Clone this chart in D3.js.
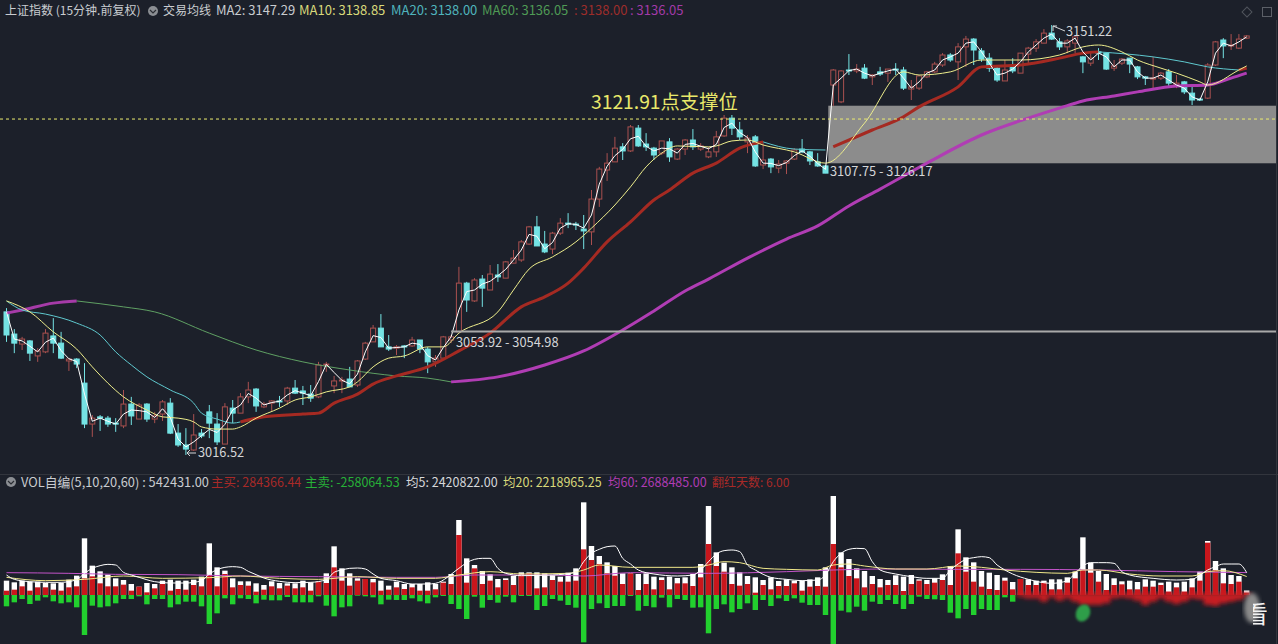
<!DOCTYPE html>
<html>
<head>
<meta charset="utf-8">
<script src="https://cdn.jsdelivr.net/npm/d3@7"></script>
<style>
  body { margin: 0; background: #1c202a; overflow: hidden; }
  text { font-family: "Noto Sans CJK SC", "Noto Sans", sans-serif; }
</style>
</head>
<body>
<div id="chart"></div>
<script>
// 15 minute candles
var candleOpen = [
  3060.2,3053.1,3049.9,3050.9,3046.1,3047.4,3052.5,3050.2,3044.5,3045.1,
  3037.4,3024.3,3026.6,3026.2,3024.6,3023.7,3030.7,3025.9,3030.7,3025.9,
  3027.5,3031.0,3021.4,3017.6,3016.0,3021.4,3028.2,3024.3,3017.9,3029.4,
  3027.8,3033.0,3035.5,3029.8,3031.0,3031.7,3031.7,3035.8,3034.9,3033.9,
  3033.0,3043.2,3036.5,3038.1,3038.7,3036.8,3045.1,3050.6,3055.0,3049.0,
  3048.6,3049.3,3049.3,3051.2,3048.3,3044.2,3045.4,3051.2,3053.8,3069.4,
  3063.7,3070.7,3067.2,3072.0,3071.0,3075.8,3076.8,3081.9,3087.4,3081.9,
  3080.3,3085.4,3088.6,3088.3,3086.7,3085.8,3096.3,3105.6,3108.2,3113.0,
  3111.7,3119.0,3113.9,3112.6,3111.0,3114.6,3109.1,3112.3,3115.2,3112.3,
  3109.8,3111.4,3116.5,3122.2,3118.4,3114.6,3116.2,3107.2,3109.1,3106.2,
  3107.8,3109.1,3112.3,3111.4,3108.2,3106.9,3132.8,3127.4,3137.6,3137.3,
  3138.2,3135.4,3137.0,3136.6,3137.9,3137.6,3131.5,3131.8,3135.4,3137.0,
  3139.2,3142.4,3140.2,3145.0,3147.5,3143.7,3141.4,3138.2,3134.1,3138.6,
  3136.6,3142.7,3144.6,3146.2,3149.4,3146.6,3145.0,3146.2,3141.8,3139.8,
  3143.4,3143.0,3138.2,3139.8,3141.4,3138.6,3135.4,3134.7,3135.0,3137.0,
  3132.8,3133.8,3130.2,3128.3,3128.6,3139.2,3147.2,3145.3,3144.6,3147.8
];
var candleClose = [
  3052.8,3050.2,3051.5,3047.0,3047.7,3053.4,3050.2,3045.4,3045.1,3043.5,
  3024.3,3026.2,3026.2,3024.3,3024.3,3030.7,3026.9,3030.4,3025.9,3026.9,
  3031.4,3021.4,3017.6,3016.3,3020.8,3020.5,3024.6,3018.6,3029.8,3027.8,
  3033.0,3035.2,3030.1,3030.7,3031.7,3031.4,3035.8,3034.2,3034.2,3032.6,
  3043.2,3043.5,3038.1,3038.4,3036.2,3044.5,3050.2,3055.0,3049.0,3048.3,
  3049.0,3049.0,3051.2,3048.3,3044.2,3045.4,3052.2,3052.2,3069.4,3064.0,
  3070.4,3067.8,3072.3,3071.4,3076.2,3077.4,3082.6,3087.4,3081.3,3079.4,
  3085.4,3088.6,3088.3,3088.0,3086.1,3096.3,3105.9,3107.8,3112.6,3111.7,
  3119.4,3113.3,3113.0,3110.4,3114.9,3109.8,3112.3,3115.2,3113.0,3113.3,
  3111.4,3116.2,3122.2,3119.0,3116.2,3115.8,3106.9,3108.8,3106.6,3107.5,
  3108.5,3112.0,3111.4,3108.5,3106.9,3104.6,3137.6,3137.3,3137.3,3137.9,
  3135.0,3136.0,3136.3,3137.9,3137.6,3131.8,3132.2,3135.7,3137.0,3139.5,
  3142.4,3140.8,3145.0,3147.5,3144.0,3141.1,3138.2,3134.4,3137.6,3137.3,
  3143.0,3144.6,3146.6,3149.4,3147.5,3145.0,3146.9,3148.2,3140.2,3141.4,
  3143.0,3137.9,3138.9,3141.1,3139.5,3135.4,3135.0,3135.0,3136.6,3133.4,
  3133.4,3130.6,3128.0,3128.0,3139.2,3146.6,3145.3,3145.6,3147.5,3148.5
];
var candleHigh = [
  3061.4,3054.7,3052.2,3051.2,3048.6,3054.7,3058.2,3053.8,3045.4,3045.4,
  3043.8,3027.2,3027.2,3026.9,3026.2,3035.2,3033.0,3031.0,3031.0,3028.2,
  3032.0,3032.6,3024.3,3023.0,3027.5,3022.7,3030.4,3027.8,3031.0,3032.0,
  3034.2,3037.8,3035.8,3031.4,3032.0,3033.3,3036.2,3038.4,3036.5,3036.8,
  3044.2,3044.2,3039.7,3039.4,3042.6,3044.8,3050.6,3056.0,3059.5,3052.8,
  3049.6,3049.6,3052.2,3051.2,3049.0,3046.4,3052.5,3052.8,3074.6,3069.8,
  3071.0,3072.0,3075.2,3075.5,3076.5,3080.0,3083.2,3087.7,3090.9,3086.1,
  3085.8,3090.2,3091.8,3089.0,3091.2,3099.2,3106.6,3111.0,3116.2,3114.2,
  3120.0,3120.0,3117.4,3113.0,3114.9,3115.8,3112.6,3115.5,3118.7,3114.2,
  3113.0,3118.1,3123.2,3123.2,3121.0,3116.8,3116.8,3114.2,3109.4,3108.8,
  3108.8,3112.6,3115.5,3111.7,3111.0,3107.2,3137.9,3137.6,3142.7,3139.5,
  3139.5,3136.3,3138.6,3137.9,3139.8,3138.6,3134.4,3136.0,3137.3,3140.2,
  3143.0,3143.0,3146.2,3148.5,3147.8,3144.6,3143.0,3138.6,3140.8,3141.4,
  3143.0,3145.0,3147.5,3150.7,3152.0,3147.8,3147.5,3148.5,3142.1,3143.4,
  3144.6,3143.0,3140.8,3141.4,3141.4,3138.9,3135.7,3141.8,3137.0,3137.9,
  3136.0,3134.1,3132.2,3128.6,3139.8,3146.9,3147.8,3149.1,3149.1,3148.8
];
var candleLow = [
  3050.6,3047.0,3048.0,3044.5,3044.2,3047.0,3047.0,3045.1,3041.3,3042.2,
  3023.0,3020.2,3022.1,3023.4,3021.8,3023.0,3024.0,3025.9,3025.0,3024.6,
  3025.3,3021.1,3017.0,3014.4,3015.7,3019.8,3019.8,3017.6,3017.9,3024.6,
  3027.8,3031.0,3028.2,3029.4,3028.5,3029.8,3030.4,3033.9,3030.4,3031.4,
  3032.6,3041.0,3034.2,3034.2,3036.2,3036.2,3044.8,3050.6,3049.0,3047.7,
  3046.4,3045.4,3049.0,3047.0,3040.6,3042.6,3045.1,3050.2,3053.8,3060.2,
  3063.4,3061.8,3067.2,3069.8,3071.0,3075.8,3076.2,3081.6,3081.3,3079.0,
  3078.7,3084.8,3087.0,3086.4,3080.3,3081.6,3093.8,3102.1,3108.2,3108.8,
  3111.4,3113.0,3111.7,3108.8,3110.4,3108.2,3108.8,3110.4,3112.0,3111.7,
  3109.4,3109.8,3116.2,3116.8,3115.2,3111.0,3106.6,3105.9,3104.6,3104.6,
  3104.3,3108.8,3111.0,3107.2,3106.6,3104.6,3126.1,3127.0,3136.0,3136.6,
  3134.7,3132.8,3135.7,3133.8,3136.0,3131.2,3128.0,3131.2,3135.0,3136.6,
  3138.6,3140.2,3134.4,3138.6,3139.2,3140.2,3137.0,3133.8,3134.1,3136.6,
  3136.6,3139.8,3143.4,3146.2,3147.2,3144.0,3143.0,3143.0,3136.6,3138.9,
  3140.8,3137.6,3137.3,3139.2,3136.6,3134.7,3132.8,3131.8,3134.4,3132.5,
  3131.8,3129.9,3126.4,3127.7,3128.3,3138.9,3141.4,3144.0,3144.3,3147.5
];

// moving averages (MA2 has a reading per bar, the others at the bends)
var ma2Values = [
  3060.2,3051.5,3050.9,3049.2,3047.4,3050.5,3051.8,3047.8,3045.2,3044.3,
  3033.9,3025.2,3026.2,3025.2,3024.3,3027.5,3028.8,3028.6,3028.2,3026.4,
  3029.2,3026.4,3019.5,3017.0,3018.6,3020.6,3022.6,3021.6,3024.2,3028.8,
  3030.4,3034.1,3032.6,3030.4,3031.2,3031.6,3033.6,3035.0,3034.2,3033.4,
  3037.9,3043.4,3040.8,3038.3,3037.2,3040.3,3047.4,3052.6,3052.0,3048.6,
  3048.8,3049.0,3050.2,3049.8,3046.2,3044.8,3048.8,3052.2,3060.8,3066.7,
  3067.2,3069.1,3070.0,3071.8,3073.8,3076.8,3080.0,3085.0,3084.4,3080.4,
  3082.4,3087.0,3088.4,3088.2,3087.0,3091.2,3101.1,3106.8,3110.2,3112.2,
  3115.6,3116.4,3113.2,3111.7,3112.6,3112.4,3111.0,3113.8,3114.1,3113.2,
  3112.4,3113.8,3119.2,3120.6,3117.6,3116.0,3111.4,3107.8,3107.7,3107.0,
  3108.0,3110.2,3111.7,3110.0,3107.7,3105.8,3132.8,3135.0,3137.4,3137.9,
  3136.6,3135.7,3136.6,3137.3,3137.9,3135.0,3131.8,3133.8,3136.6,3137.6,
  3140.8,3141.8,3143.0,3146.2,3146.6,3143.4,3139.8,3136.0,3136.6,3137.9,
  3140.2,3143.4,3145.6,3147.8,3149.1,3146.2,3146.2,3147.8,3143.4,3140.8,
  3143.0,3141.8,3138.6,3140.8,3140.8,3137.0,3135.0,3135.0,3136.0,3134.4,
  3132.8,3131.8,3129.0,3128.0,3133.8,3143.0,3146.2,3145.3,3146.6,3148.2
];
var ma10Index = [0,3,6,9,11,13,15,18,20,22,24,25,27,29,30,32,35,37,39,41,44,45,47,49,51,54,56,58,63,65,67,70,73,75,78,80,82,84,86,90,91,93,95,97,101,105,110,115,117,121,125,130,135,138,140,143,145,148,150,153,154,158,159];
var ma10Values = [3063.7,3060.2,3053.8,3048.3,3042.6,3037.4,3033.0,3028.8,3026.6,3026.2,3025.0,3023.4,3022.7,3022.7,3023.4,3026.2,3029.4,3032.0,3033.0,3034.6,3036.2,3037.8,3042.6,3045.4,3046.1,3049.0,3049.0,3053.4,3060.2,3067.2,3073.9,3077.8,3082.6,3087.0,3094.4,3100.2,3106.6,3111.0,3113.3,3113.0,3113.3,3114.9,3115.2,3113.6,3111.4,3107.8,3120.6,3137.0,3136.0,3137.0,3140.8,3140.8,3142.4,3145.0,3145.6,3143.4,3140.8,3138.2,3136.6,3133.8,3132.8,3137.6,3138.9];
var ma20Index = [0,2,5,9,12,14,16,18,21,24,25,27,29,30,33,38,40,42,45,47,50,54,58,62,66,69,72,74,77,80,83,85,88,91,94,97,101,105,106,111,115,117,122,125,130,135,138,140,147,151,154,158,159];
var ma20Values = [3063.7,3060.8,3059.5,3056.6,3052.8,3047.4,3043.2,3039.4,3035.2,3031.0,3027.8,3025.9,3024.6,3025.0,3026.6,3027.5,3027.8,3031.0,3033.9,3037.1,3039.7,3042.6,3047.7,3053.4,3061.8,3065.0,3069.4,3074.2,3082.6,3089.0,3096.0,3099.2,3104.6,3107.8,3112.6,3114.6,3112.3,3112.0,3113.0,3118.4,3122.6,3125.8,3132.2,3138.6,3139.2,3141.4,3143.0,3143.4,3141.8,3140.2,3138.6,3137.6,3138.2];
var ma60Index = [0,2,6,9,15,19,26,32,38,44,50,54,57,63,69,74,79,83,87,90,95,100,104,108,112,118,125,131,135,138,142,145,150,154,157,159];
var ma60Values = [3059.8,3060.8,3063.0,3063.7,3061.8,3060.2,3053.4,3048.0,3044.2,3041.6,3039.7,3039.0,3037.8,3039.4,3043.2,3047.7,3054.4,3060.5,3066.9,3070.7,3077.4,3083.5,3087.7,3094.1,3099.5,3107.8,3116.8,3122.2,3125.4,3127.7,3129.3,3130.6,3132.5,3132.8,3135.0,3136.6];

// marked price levels
var supportLevel = 3121.91;
var gapLow = 3107.75;
var gapHigh = 3126.17;
var lowerLevel = 3053.92;
var lowerLevelStart = 57;

// volume in thousands
var volTotal = [
  1720,1520,1720,1600,1600,1440,1400,1440,1840,2320,
  6800,3520,2840,2440,2000,1800,1320,1000,1440,1320,
  1720,1840,1720,1720,1840,2200,6200,3320,2920,2000,
  1640,1640,1400,1200,1640,1440,1400,1400,1720,1520,
  1600,2600,5840,3200,2600,2000,1920,1920,1720,1120,
  1600,1320,1320,1320,1520,1320,1600,2520,9000,4400,
  3600,2880,2480,1920,2000,2280,2720,2720,2720,2600,
  2400,2200,2680,3200,11120,5880,4680,3920,3480,2600,
  2600,2520,2600,2200,2120,2200,2040,2120,2520,3720,
  10680,5120,3880,3320,2720,2280,2120,1800,2120,1680,
  1880,1720,1720,1880,2120,3320,11880,5120,4320,3200,
  2880,2280,1920,1800,2360,2200,2400,1880,1800,2000,
  2480,3480,7880,4520,3920,2880,2680,2400,2080,1560,
  1920,1880,1720,1720,1880,1880,2120,2800,6920,3880,
  2880,2520,2000,1640,1720,1560,1880,1720,1480,1600,
  1480,1600,2000,2800,6480,4080,3200,2400,2280,542
];
var volBuy = [
  520,640,1040,520,920,920,640,520,920,1040,
  2000,2240,1400,1040,1040,1240,520,1000,320,800,
  1320,520,720,640,1200,1040,2400,1040,2520,920,
  1200,1120,400,640,1040,800,1120,800,920,520,
  1600,1440,3320,1720,1120,1720,1920,1520,520,640,
  920,720,920,520,520,680,1480,1320,7200,1480,
  3200,1320,1720,920,1800,1200,2400,2600,800,920,
  1800,1600,1600,1720,5480,4200,3720,2600,2320,1320,
  2600,600,1320,680,1800,680,1400,1400,1080,2120,
  6120,3480,2800,1320,1120,1320,280,1200,680,1080,
  1080,1400,520,1000,1080,1000,6120,3320,2280,2000,
  920,1320,920,1200,1200,480,1320,1720,1320,1480,
  1800,1200,5000,2800,1600,1000,720,600,1720,680,
  1920,1200,1200,1480,680,680,1480,2000,3000,2680,
  1600,600,1200,1280,680,680,1000,1000,1200,400,
  920,400,920,1720,6280,3000,1400,1320,1600,284
];
var volSell = [
  1360,880,480,1080,680,280,760,1000,880,1480,
  4800,1280,1480,1360,1000,480,480,160,1120,480,
  480,1480,1120,800,800,1360,3480,2200,400,1120,
  400,480,1000,560,640,640,240,880,880,880,
  160,1280,2560,1480,1360,80,160,280,1120,560,
  600,600,400,760,1000,280,120,1080,1680,2880,
  200,1520,600,920,200,880,120,120,1800,1320,
  480,680,1200,1520,5680,1680,1000,1560,1320,1320,
  120,1880,1320,1480,320,1480,480,600,1520,1480,
  4600,1680,1120,2080,1680,1000,1800,600,1320,400,
  720,400,920,1200,1200,2400,5880,1880,2080,1400,
  1880,800,1080,600,1080,1680,1080,200,480,520,
  600,2120,2800,1680,2400,1680,1800,1800,280,800
];
// last 30 bars: the sell side is smeared out in the picture
var volSmudge = [200,400,400,800,280,680,400,800,1200,1200,1200,1000,400,280,400,680,1200,800,400,800,1080,800,400,520,1200,1320,1000,800,600,200];
var smudgeStart = 130;

var volMa5Index = [0,1,3,5,7,9,10,11,12,13,14,15,16,17,19,21,23,25,26,27,28,29,30,31,32,33,35,37,39,41,42,43,44,45,46,47,48,50,52,54,55,58,59,60,61,62,63,64,66,70,73,74,75,76,77,78,79,80,81,83,86,88,89,90,91,92,93,94,95,96,98,100,102,104,105,106,107,108,109,110,111,112,114,116,118,120,121,122,123,124,125,126,127,128,129,131,134,136,137,138,139,140,141,142,143,144,147,150,152,153,154,155,156,157,158,159];
var volMa5Values = [2400,1880,1600,1520,1520,1840,2600,3200,3520,3680,3600,2720,2400,2120,1600,1440,1440,1720,2520,3040,3320,3400,3320,2840,2440,2040,1640,1480,1520,1840,2720,3000,3200,3240,3120,2520,2000,1720,1320,1320,1400,3200,3880,4280,4400,4400,3200,2600,2320,2400,2720,4000,5000,5480,5800,5880,4400,3720,3000,2520,2280,2400,3000,4000,4920,5320,5400,5200,3600,3000,2120,1880,1720,1800,2400,4000,5000,5480,5600,5560,4000,3000,2520,2200,2000,2000,3000,3720,4280,4480,4600,4480,3600,3000,2520,1880,1400,1720,2600,3480,3880,3880,3880,3800,2800,2400,2000,1800,1880,2400,3000,3400,3720,3720,3720,2680];
var volMa10Index = [0,5,10,15,20,26,30,35,40,45,50,55,58,62,66,72,74,76,80,88,90,92,94,97,100,104,106,108,110,114,118,122,125,128,132,136,138,140,144,148,152,154,156,159];
var volMa10Values = [2120,1720,1880,2280,2000,2080,2280,2000,1880,2200,2000,2000,2400,2800,2520,2600,3000,3600,3320,3320,3600,4000,3880,3200,3080,3000,3600,3720,3480,3120,3120,3480,3320,3000,2720,2600,3000,3000,2520,2280,2280,2800,2920,2219];
var volMa60Index = [0,8,14,22,30,40,50,55,60,70,74,80,90,100,106,112,122,130,140,150,159];
var volMa60Values = [2680,2600,2480,2440,2280,2200,2120,2120,2400,2400,2280,2680,2600,2800,3000,3120,3080,3080,3000,2800,2688];

// ---------- chart ----------
var svgWidth = 1278;
var svgHeight = 644;
var bg = "#1c202a";

var svg = d3.select("#chart").append("svg")
  .attr("width", svgWidth)
  .attr("height", svgHeight)
  .style("display", "block");

svg.append("rect").attr("width", svgWidth).attr("height", svgHeight).attr("fill", bg);

var defs = svg.append("defs");
defs.append("filter").attr("id", "soft").append("feGaussianBlur").attr("stdDeviation", 0.35);
defs.append("filter").attr("id", "smear").append("feGaussianBlur").attr("stdDeviation", 2.2);
defs.append("filter").attr("id", "blob").append("feGaussianBlur").attr("stdDeviation", 0.9);
defs.append("clipPath").attr("id", "glyphCut").append("rect")
  .attr("x", 1253).attr("y", 596).attr("width", 14).attr("height", 32);

var xscale = d3.scaleLinear().domain([0, 159]).range([6.5, 1246.7]);
var yscale = d3.scaleLinear().domain([3000, 3160]).range([500, 0]);
var vscale = d3.scaleLinear().domain([-6000, 12000]).range([645, 495]);

var bars = d3.range(candleOpen.length);
var marks = svg.append("g").attr("filter", "url(#soft)");

// panel frame
marks.append("line").attr("x1", 0).attr("x2", 1278).attr("y1", 474.5).attr("y2", 474.5).attr("stroke", "#30343d");
marks.append("line").attr("x1", 1276.5).attr("x2", 1276.5).attr("y1", 20).attr("y2", 644).attr("stroke", "#30343d");

// gap box goes under the lines
marks.append("rect")
  .attr("x", xscale(106) - 5).attr("width", 1276 - xscale(106) + 5)
  .attr("y", yscale(gapHigh)).attr("height", yscale(gapLow) - yscale(gapHigh))
  .attr("fill", "#8c8c8c");

// candles
var candleUp = "#a9504f";
var candleDown = "#74e3e4";
var candles = marks.append("g");
candles.selectAll("line").data(bars).enter().append("line")
  .attr("x1", d => xscale(d)).attr("x2", d => xscale(d))
  .attr("y1", d => yscale(candleHigh[d])).attr("y2", d => yscale(candleLow[d]))
  .attr("stroke", d => candleClose[d] >= candleOpen[d] ? candleUp : candleDown)
  .attr("stroke-width", 1);
candles.selectAll("rect").data(bars).enter().append("rect")
  .attr("x", d => xscale(d) - 2.5)
  .attr("width", 5)
  .attr("y", d => yscale(Math.max(candleOpen[d], candleClose[d])))
  .attr("height", d => Math.max(1, Math.abs(yscale(candleOpen[d]) - yscale(candleClose[d]))))
  .attr("fill", d => candleClose[d] >= candleOpen[d] ? bg : candleDown)
  .attr("stroke", d => candleClose[d] >= candleOpen[d] ? candleUp : candleDown)
  .attr("stroke-width", 1);

// lines, some change colour and weight along the way
function drawRun(index, values, from, to, color, width, curve) {
  var pts = index.map((d, i) => [d, values[i]]).filter(p => p[0] >= from && p[0] <= to);
  var line = d3.line().x(p => xscale(p[0])).y(p => yscale(p[1])).curve(curve || d3.curveMonotoneX);
  marks.append("path").attr("d", line(pts))
    .attr("fill", "none").attr("stroke", color).attr("stroke-width", width)
    .attr("stroke-linejoin", "round");
}

drawRun(ma60Index, ma60Values, 0, 9, "#a63aa8", 3);
drawRun(ma60Index, ma60Values, 9, 57, "#5fa063", 1);
drawRun(ma60Index, ma60Values, 57, 159, "#b03cb4", 3);

drawRun(ma20Index, ma20Values, 0, 30, "#5fc9cf", 1);
drawRun(ma20Index, ma20Values, 30, 97, "#a52a22", 3);
drawRun(ma20Index, ma20Values, 97, 105, "#5fc9cf", 1);
drawRun(ma20Index, ma20Values, 106, 140, "#a52a22", 3);
drawRun(ma20Index, ma20Values, 140, 158, "#5fc9cf", 1);
drawRun(ma20Index, ma20Values, 158, 159, "#a52a22", 3);

drawRun(ma10Index, ma10Values, 0, 159, "#eeee8c", 1);
drawRun(bars, ma2Values, 0, 159, "#ffffff", 1, d3.curveLinear);

marks.append("line")
  .attr("x1", xscale(lowerLevelStart)).attr("x2", 1276)
  .attr("y1", yscale(lowerLevel)).attr("y2", yscale(lowerLevel))
  .attr("stroke", "#a9a9a9").attr("stroke-width", 2);

marks.append("line")
  .attr("x1", 0).attr("x2", 1276)
  .attr("y1", yscale(supportLevel)).attr("y2", yscale(supportLevel))
  .attr("stroke", "#ecec70").attr("stroke-width", 1).attr("stroke-dasharray", "3,3");

// volume panel
var vols = marks.append("g");
vols.selectAll("rect.total").data(bars).enter().append("rect").attr("class", "total")
  .attr("x", d => xscale(d) - 2.7).attr("width", 5.4)
  .attr("y", d => vscale(volTotal[d])).attr("height", d => vscale(0) - vscale(volTotal[d]))
  .attr("fill", "#ffffff");
vols.selectAll("rect.buy").data(bars).enter().append("rect").attr("class", "buy")
  .attr("x", d => xscale(d) - 2.7).attr("width", 5.4)
  .attr("y", d => vscale(volBuy[d])).attr("height", d => vscale(0) - vscale(volBuy[d]))
  .attr("fill", "#c9191e");
vols.selectAll("rect.sell").data(volSell).enter().append("rect").attr("class", "sell")
  .attr("x", (d, i) => xscale(i) - 2.7).attr("width", 5.4)
  .attr("y", vscale(0)).attr("height", d => vscale(-d) - vscale(0))
  .attr("fill", "#24d02e");

// watermark smear over the last bars
svg.append("g").attr("filter", "url(#smear)")
  .selectAll("rect").data(volSmudge).enter().append("rect")
  .attr("x", (d, i) => xscale(i + smudgeStart) - 4).attr("width", 8)
  .attr("y", vscale(0) - 2).attr("height", d => vscale(-d) - vscale(0) + 2)
  .attr("fill", "#c81c20");
svg.append("ellipse").attr("cx", 1083).attr("cy", 613).attr("rx", 7).attr("ry", 9)
  .attr("transform", "rotate(25 1083 613)").attr("fill", "#2f9e4a").attr("filter", "url(#blob)");
svg.append("ellipse").attr("cx", 1252).attr("cy", 608).attr("rx", 8).attr("ry", 15)
  .attr("fill", "#8a8a8a").attr("filter", "url(#smear)");
svg.append("text").attr("x", 1244).attr("y", 623).attr("font-size", 24).attr("fill", "#f2f2f2")
  .attr("clip-path", "url(#glyphCut)").text("看");

var vline = d3.line().x(p => xscale(p[0])).y(p => vscale(p[1])).curve(d3.curveMonotoneX);
function drawVol(index, values, color) {
  marks.append("path").attr("d", vline(index.map((d, i) => [d, values[i]])))
    .attr("fill", "none").attr("stroke", color).attr("stroke-width", 1);
}
drawVol(volMa60Index, volMa60Values, "#c253c8");
drawVol(volMa10Index, volMa10Values, "#f0e88a");
drawVol(volMa5Index, volMa5Values, "#ffffff");

// ---------- text ----------
function label(x, y, str, color, size) {
  return svg.append("text").attr("x", x).attr("y", y)
    .attr("font-size", size || 12).attr("fill", color).text(str);
}
function tickIcon(cx, cy) {
  svg.append("circle").attr("cx", cx).attr("cy", cy).attr("r", 5).attr("fill", "#8b8e93");
  svg.append("path").attr("d", `M${cx - 3},${cy - 1} L${cx},${cy + 2} L${cx + 3},${cy - 1}`)
    .attr("fill", "none").attr("stroke", "#2a2d33").attr("stroke-width", 1.2);
}

label(5, 15, "上证指数 (15分钟.前复权)", "#c9ccd0");
tickIcon(153, 11);
label(163, 15, "交易均线", "#c9ccd0");
label(216, 15, "MA2: 3147.29", "#c9ccd0", 13);
label(299, 15, "MA10: 3138.85", "#d9d97a", 13);
label(391, 15, "MA20: 3138.00", "#4fb4bd", 13);
label(482, 15, "MA60: 3136.05", "#4f9a55", 13);
label(574, 15, ": 3138.00", "#9c2d2a", 13);
label(630, 15, ": 3136.05", "#a23aa8", 13);

// top right icons
svg.append("rect").attr("x", 1243.5).attr("y", 8.5).attr("width", 7).attr("height", 7)
  .attr("transform", "rotate(45 1247 12)").attr("fill", "none").attr("stroke", "#50545c");
svg.append("rect").attr("x", 1262.5).attr("y", 7.5).attr("width", 9).attr("height", 9)
  .attr("fill", "none").attr("stroke", "#5c6068");

tickIcon(11, 482);
label(21, 487, "VOL自编(5,10,20,60) : 542431.00", "#c9ccd0", 12.8);
label(211, 487, "主买: 284366.44", "#a82a28", 12.5);
label(305, 487, "主卖: -258064.53", "#27b038", 12.5);
label(406, 487, "均5: 2420822.00", "#d6d8da", 12.5);
label(503, 487, "均20: 2218965.25", "#d9d97a", 12.5);
label(608, 487, "均60: 2688485.00", "#b03cb4", 12.5);
label(712, 487, "翻红天数: 6.00", "#a82a28");

label(591, 109, "3121.91点支撑位", "#e9e96a", 19.3);
label(198, 457, "3016.52", "#d4d6d8", 12.8);
label(1066, 36, "3151.22", "#d4d6d8", 12.8);
label(456, 347, "3053.92 - 3054.98", "#d4d6d8", 12.8);
label(830, 176, "3107.75 - 3126.17", "#d4d6d8", 12.8);

// small arrows from the high and low to their labels
svg.append("path").attr("d", "M196,453 L187,453 M190,450 L187,453 L190,456")
  .attr("fill", "none").attr("stroke", "#d4d6d8");
svg.append("path").attr("d", "M1065,31 L1053,26 M1053,26 L1057,26 M1053,26 L1053,31")
  .attr("fill", "none").attr("stroke", "#d4d6d8");
</script>
</body>
</html>
